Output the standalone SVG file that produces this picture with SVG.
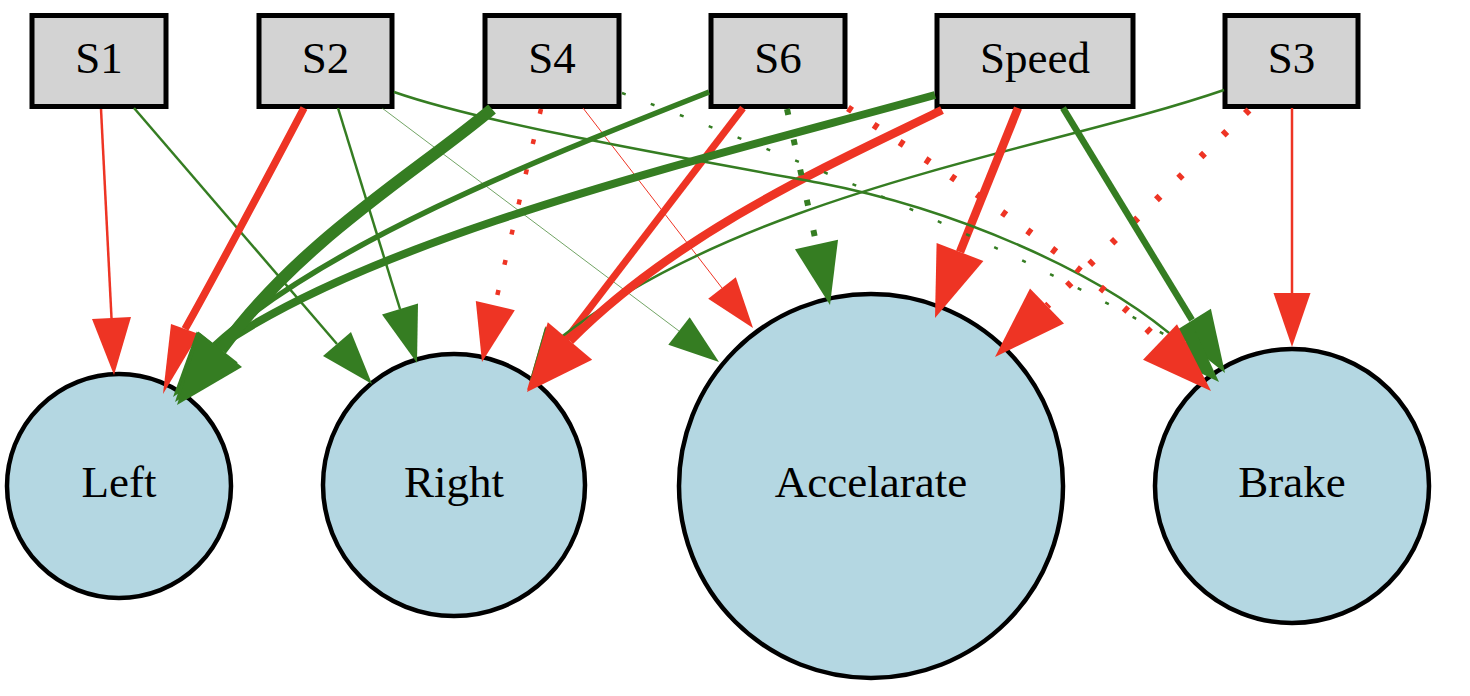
<svg xmlns="http://www.w3.org/2000/svg" width="1470" height="696" viewBox="0 0 1470 696">
<style>
.box{fill:#d3d3d3;stroke:#000;stroke-width:5}
.circ{fill:#b4d7e2;stroke:#000;stroke-width:4.5}
.lbl{font-family:"Liberation Serif","Times New Roman",serif;font-size:45px;fill:#000;text-anchor:middle}
.r{fill:none;stroke:#ee3424}
.g{fill:none;stroke:#357d22}
.rh{fill:#ee3424;stroke:none}
.gh{fill:#357d22;stroke:none}
.dot{stroke-dasharray:5 26}
</style>
<rect width="1470" height="696" fill="#fff"/>
<g id="node-S1"><rect class="box" x="32" y="15.5" width="134" height="91"/><text class="lbl" x="99" y="73">S1</text></g>
<g id="node-S2"><rect class="box" x="259" y="15.5" width="133" height="91"/><text class="lbl" x="325.5" y="73">S2</text></g>
<g id="node-S4"><rect class="box" x="485" y="15.5" width="134" height="91"/><text class="lbl" x="552" y="73">S4</text></g>
<g id="node-S6"><rect class="box" x="711" y="15.5" width="134" height="91"/><text class="lbl" x="778" y="73">S6</text></g>
<g id="node-Speed"><rect class="box" x="937" y="15.5" width="196" height="91"/><text class="lbl" x="1035" y="73">Speed</text></g>
<g id="node-S3"><rect class="box" x="1225" y="15.5" width="133" height="91"/><text class="lbl" x="1291.5" y="73">S3</text></g>
<g id="node-Left"><circle class="circ" cx="119" cy="486" r="112"/><text class="lbl" x="119" y="497">Left</text></g>
<g id="node-Right"><circle class="circ" cx="454" cy="485" r="131"/><text class="lbl" x="454" y="497">Right</text></g>
<g id="node-Accelarate"><circle class="circ" cx="871" cy="486" r="192"/><text class="lbl" x="871" y="497">Accelarate</text></g>
<g id="node-Brake"><circle class="circ" cx="1292" cy="486" r="137"/><text class="lbl" x="1292" y="497">Brake</text></g>
<g id="connectors">
<!-- S1 -> Left -->
<path class="r" stroke-width="2.5" d="M101,109 L111.5,318"/>
<polygon class="rh" points="131,317.1 114,375 92,318.9"/>
<!-- S1 -> Right -->
<path class="g" stroke-width="2.5" d="M134,108 L337,344"/>
<polygon class="gh" points="351,332 372,384 323,356"/>
<!-- S2 -> Left -->
<path class="r" stroke-width="7.5" d="M304,108 C282,150 210,285 185,329"/>
<polygon class="rh" points="199,334 163,394 171,324"/>
<!-- S2 -> Right -->
<path class="g" stroke-width="2.5" d="M338,108 L400,309"/>
<polygon class="gh" points="418,303.5 417,363 382,314.5"/>
<!-- S2 -> Accelarate -->
<path class="g" stroke-width="0.7" d="M382,108 L679,331"/>
<polygon class="gh" points="689.7,317.2 719,362 668.3,344.8"/>
<!-- S4 -> Right (dotted) -->
<path class="r dot" stroke-width="4.5" d="M541,109 L495,305"/>
<polygon class="rh" points="514.8,310.2 482,362 475.8,301"/>
<!-- S4 -> Accelarate -->
<path class="r" stroke-width="1" d="M583,108 L722,288"/>
<polygon class="rh" points="735.8,277.3 753,328 708.2,298.7"/>
<!-- S6 -> Right -->
<path class="r" stroke-width="7" d="M743,108 L564.7,340.8"/>
<polygon class="rh" points="583.8,355.4 527,390 545.6,326.2"/>
<!-- S3 -> Right -->
<path class="g" stroke-width="2.5" d="M1224,90 C1050,150 750,190 560,338"/>
<polygon class="gh" points="575,348.7 530,380 545,327.3"/>
<!-- Speed -> Right -->
<path class="r" stroke-width="8.5" d="M942,110 C840,160 680,230 570,341"/>
<polygon class="rh" points="592.2,359.7 527,392 547.8,322.3"/>
<!-- Speed -> Accelarate -->
<path class="r" stroke-width="8.5" d="M1018,108 L960,252"/>
<polygon class="rh" points="983.4,260.9 935,318 936.6,243.1"/>
<!-- S3 -> Accelarate (dotted) -->
<path class="r dot" stroke-width="7" d="M1249,110 L1047,306"/>
<polygon class="rh" points="1064,323.5 995,357 1030,288.5"/>
<!-- S6 -> Accelarate (dotted) -->
<path class="g" stroke-width="6" stroke-dasharray="6 25" d="M787,109 L816.5,244.5"/>
<polygon class="gh" points="838,239.7 830,305 795,249.3"/>
<!-- S3 -> Brake -->
<path class="r" stroke-width="2.5" d="M1292,108 L1292,293"/>
<polygon class="rh" points="1310.5,293 1292,347 1273.5,293"/>
<!-- Speed -> Brake -->
<path class="g" stroke-width="6.5" d="M1063,108 L1192,320"/>
<polygon class="gh" points="1210.9,308.8 1225,373 1173.5,332"/>
<!-- S2 -> Brake -->
<path class="g" stroke-width="2.5" d="M394,92 C480,122 650,152 820,183 C950,208 1100,270 1183,345"/>
<polygon class="gh" points="1195.5,331.6 1219,382 1170.5,358.4"/>
<!-- S4 -> Brake (dotted) -->
<path class="g" stroke-width="2.5" stroke-dasharray="4 27" d="M622,93 C800,160 1000,240 1183,345"/>
<!-- S6 -> Brake (dotted) -->
<path class="r dot" stroke-width="7" d="M848,108 C950,175 1080,260 1160,342"/>
<polygon class="rh" points="1177,324.3 1211,391 1143,359.7"/>
<!-- S6 -> Left -->
<path class="g" stroke-width="5.5" d="M709,92 C550,155 330,240 214,345"/>
<polygon class="gh" points="231.3,358.6 173,397 196.7,331.4"/>
<!-- Speed -> Left -->
<path class="g" stroke-width="8" d="M935,95 C700,160 380,235 218,347"/>
<polygon class="gh" points="237.7,362.4 175,402 198.3,331.6"/>
<!-- S4 -> Left -->
<path class="g" stroke-width="12" d="M492,109 C420,170 300,240 221,350"/>
<polygon class="gh" points="242,366.9 177,405 199.9,333.1"/>
</g>
</svg>
